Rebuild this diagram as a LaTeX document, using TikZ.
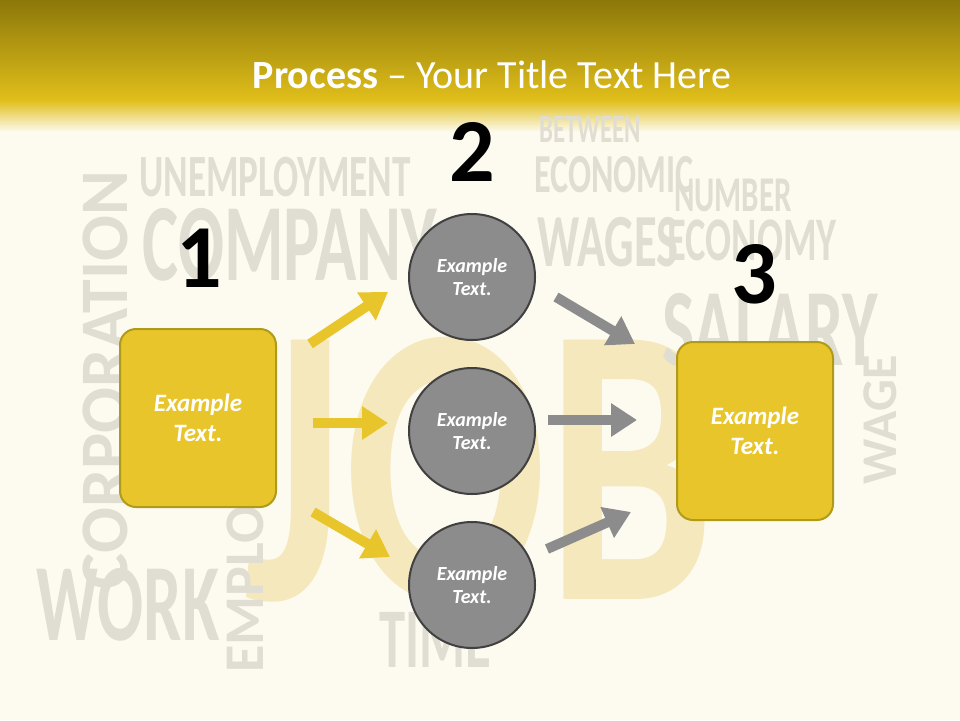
\documentclass[tikz,border=0pt]{standalone}
\usepackage{fontspec}
\setmainfont{Carlito}
\usetikzlibrary{arrows.meta}
\definecolor{cream}{HTML}{FDFBF0}
\definecolor{goldA}{HTML}{8C780A}
\definecolor{goldB}{HTML}{E0BE1A}
\definecolor{boxy}{HTML}{E8C52A}
\definecolor{boxb}{HTML}{B09A1A}
\definecolor{cgrey}{HTML}{8C8C8C}
\definecolor{cloud}{HTML}{E0DDD3}
\definecolor{jobc}{HTML}{F4E8BC}
\tikzset{
 ybox/.style={draw=boxb,line width=2pt,fill=boxy,rounded corners=16pt,minimum width=156pt,minimum height=178pt,text=white,font=\bfseries\itshape\fontsize{25}{30}\selectfont,align=center},
 gcirc/.style={circle,draw=black!75,line width=2pt,fill=cgrey,minimum size=126pt,text=white,font=\bfseries\itshape\fontsize{20}{23}\selectfont,align=center},
 num/.style={font=\bfseries\fontsize{90}{90}\selectfont},
 yarr/.style={draw=boxy,line width=10pt,-{Triangle[length=26pt,width=32pt]}},
 garr/.style={draw=cgrey,line width=10pt,-{Triangle[length=26pt,width=32pt]}},
 word/.style={text=cloud,xscale=0.62},
 vword/.style={text=cloud,rotate=90}
}
\begin{document}
\begin{tikzpicture}[x=1pt,y=-1pt]
\useasboundingbox (0,0) rectangle (960,720);
\fill[cream] (0,0) rectangle (960,720);
\shade[top color=goldA,bottom color=goldB] (0,0) rectangle (960,100);
\shade[top color=goldB,bottom color=cream] (0,100) rectangle (960,132);
% word cloud
\node[text=jobc,font=\bfseries\fontsize{400}{400}\selectfont,xscale=0.75] (job) at (480,470) {JOB};
\node[word,font=\bfseries\fontsize{110}{110}\selectfont] (w1) at (290,245) {COMPANY};
\node[vword,font=\bfseries\fontsize{68}{68}\selectfont] (w2) at (105,380) {CORPORATION};
\node[word,font=\bfseries\fontsize{110}{110}\selectfont] (w3) at (128,605) {WORK};
\node[vword,font=\bfseries\fontsize{56}{56}\selectfont] (w4) at (245,505) {EMPLOYMENT};
\node[word,font=\bfseries\fontsize{60}{60}\selectfont] (w5) at (275,177) {UNEMPLOYMENT};
\node[word,font=\bfseries\fontsize{55}{55}\selectfont] (w6) at (614,175) {ECONOMIC};
\node[word,font=\bfseries\fontsize{75}{75}\selectfont] (w7) at (608,242) {WAGES};
\node[word,font=\bfseries\fontsize{62}{62}\selectfont] (w8) at (752,240) {ECONOMY};
\node[word,font=\bfseries\fontsize{110}{110}\selectfont] (w9) at (770,330) {SALARY};
\node[word,font=\bfseries\fontsize{85}{85}\selectfont] (w10) at (435,640) {TIME};
\node[vword,font=\bfseries\fontsize{50}{50}\selectfont] (w11) at (880,420) {WAGE};
\node[word,font=\bfseries\fontsize{50}{50}\selectfont] (w12) at (733,195) {NUMBER};
\node[word,font=\bfseries\fontsize{40}{40}\selectfont] (w13) at (590,130) {BETWEEN};
% title
\node[text=white,font=\fontsize{40}{48}\selectfont] (title) at (492,75) {\textbf{Process} -- Your Title Text Here};
% numbers
\node[num] (n1) at (199,258) {1};
\node[num] (n2) at (472,152) {2};
\node[num] (n3) at (754,274) {3};
% boxes
\node[ybox] (b1) at (198,418) {Example\\Text.};
\node[ybox] (b3) at (755,431) {Example\\Text.};
\node[gcirc] (c1) at (472,277) {Example\\Text.};
\node[gcirc] (c2) at (472,431) {Example\\Text.};
\node[gcirc] (c3) at (472,585) {Example\\Text.};
% arrows
\coordinate (a1s) at (310,344); \coordinate (a1e) at (388,292);
\coordinate (a2s) at (313,423); \coordinate (a2e) at (388,423);
\coordinate (a3s) at (313,512); \coordinate (a3e) at (390,557);
\coordinate (g1s) at (556,297); \coordinate (g1e) at (635,344);
\coordinate (g2s) at (548,420); \coordinate (g2e) at (637,420);
\coordinate (g3s) at (547,549); \coordinate (g3e) at (631,512);
\draw[yarr] (a1s) -- (a1e);
\draw[yarr] (a2s) -- (a2e);
\draw[yarr] (a3s) -- (a3e);
\draw[garr] (g1s) -- (g1e);
\draw[garr] (g2s) -- (g2e);
\draw[garr] (g3s) -- (g3e);
\end{tikzpicture}
\end{document}
